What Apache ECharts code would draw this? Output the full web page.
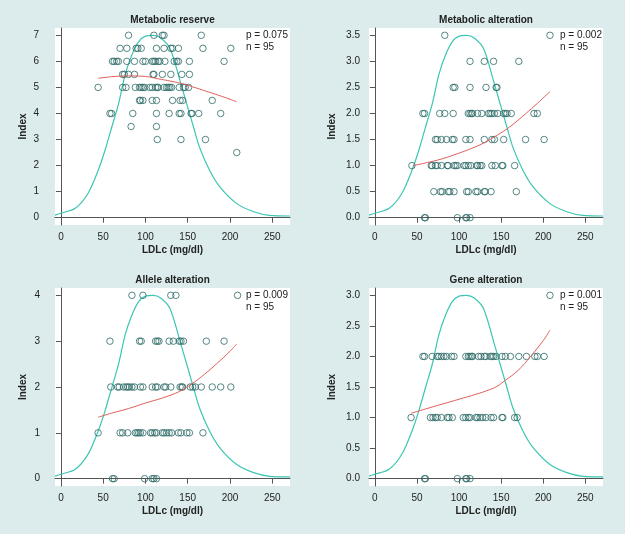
<!DOCTYPE html>
<html><head><meta charset="utf-8">
<script src="https://cdn.jsdelivr.net/npm/echarts@6/dist/echarts.min.js"></script>
<style>html,body{margin:0;padding:0;background:#fff}#c{width:625px;height:534px;background:#dcecec}</style>
</head><body><div id="c"></div><script>
const xTicks = [0, 50, 100, 150, 200, 250];
const curveX = [-7, 0, 17, 32, 44, 52, 60, 68, 76, 84, 92, 100, 109, 118, 129, 141, 149, 157, 164, 176, 188, 208, 228, 247, 271];

// Metabolic reserve
const reserveTitle = 'Metabolic reserve';
const reserveStats = ['p = 0.075', 'n = 95'];
const reserveTicks = [0, 1, 2, 3, 4, 5, 6, 7];
const reserveRows = [
  [7, [80, 110, 120, 122, 166]],
  [6.5, [70, 78, 89, 91, 95, 113, 122, 130, 132, 139, 168, 201]],
  [6, [61, 63, 66, 68, 78, 87, 97, 100, 108, 110, 112, 115, 117, 123, 134, 137, 139, 152, 193]],
  [5.5, [73, 75, 80, 87, 109, 110, 120, 130, 143, 152]],
  [5, [44, 73, 77, 88, 93, 95, 97, 99, 105, 108, 112, 114, 115, 122, 125, 127, 129, 131, 140, 145, 147, 151]],
  [4.5, [93, 94, 97, 108, 113, 132, 141, 144, 179]],
  [4, [58, 60, 85, 113, 128, 140, 142, 154, 155, 163, 189]],
  [3.5, [83, 113]],
  [3, [114, 142, 171]],
  [2.5, [208]]
];
const reserveTrend = [[44, 5.35], [60, 5.41], [80, 5.44], [100, 5.42], [115, 5.33], [130, 5.24], [145, 5.13], [160, 4.98], [175, 4.82], [190, 4.66], [208, 4.45]];
const reserveCurve = [0.10, 0.17, 0.36, 0.93, 1.81, 2.57, 3.46, 4.35, 5.49, 6.25, 6.76, 6.97, 7.0, 6.9, 6.5, 5.24, 4.35, 3.46, 2.7, 1.81, 1.18, 0.54, 0.23, 0.09, 0.065];

// Metabolic alteration
const metabTitle = 'Metabolic alteration';
const metabStats = ['p = 0.002', 'n = 95'];
const metabTicks = [0, 0.5, 1, 1.5, 2, 2.5, 3, 3.5];
const metabRows = [
  [3.5, [83, 208]],
  [3, [113, 130, 141, 171]],
  [2.5, [93, 95, 113, 132, 144, 145]],
  [2, [57, 59, 77, 83, 93, 111, 113, 115, 116, 122, 127, 135, 137, 139, 142, 146, 153, 155, 157, 162, 189, 193]],
  [1.5, [72, 74, 79, 85, 92, 94, 108, 113, 130, 139, 142, 153, 179, 201]],
  [1, [44, 67, 68, 72, 74, 79, 86, 87, 94, 96, 98, 106, 108, 111, 114, 121, 122, 125, 127, 139, 143, 151, 152, 166]],
  [0.5, [70, 78, 80, 87, 89, 94, 109, 111, 120, 122, 130, 131, 138, 168]],
  [0, [59, 60, 98, 108, 109, 113]]
];
const metabTrend = [[45, 1.0], [60, 1.05], [80, 1.13], [100, 1.24], [115, 1.33], [130, 1.44], [145, 1.58], [160, 1.74], [175, 1.94], [190, 2.15], [208, 2.42]];
const metabCurve = [0.05, 0.085, 0.18, 0.465, 0.905, 1.285, 1.73, 2.175, 2.745, 3.125, 3.38, 3.485, 3.5, 3.45, 3.25, 2.62, 2.175, 1.73, 1.35, 0.905, 0.59, 0.27, 0.115, 0.045, 0.033];

// Allele alteration
const alleleTitle = 'Allele alteration';
const alleleStats = ['p = 0.009', 'n = 95'];
const alleleTicks = [0, 1, 2, 3, 4];
const alleleRows = [
  [4, [84, 97, 130, 136, 209]],
  [3, [58, 93, 95, 112, 114, 116, 128, 133, 140, 142, 145, 172, 193]],
  [2, [59, 67, 69, 74, 77, 79, 81, 84, 87, 94, 97, 108, 112, 114, 122, 124, 130, 141, 143, 144, 153, 156, 159, 166, 179, 189, 201]],
  [1, [44, 70, 73, 79, 88, 90, 92, 94, 97, 106, 108, 111, 113, 120, 122, 125, 128, 131, 139, 142, 149, 152, 168]],
  [0, [61, 63, 99, 108, 110, 113]]
];
const alleleTrend = [[44, 1.34], [60, 1.43], [80, 1.53], [100, 1.65], [120, 1.76], [140, 1.9], [155, 2.07], [170, 2.28], [185, 2.52], [200, 2.78], [208, 2.94]];
const alleleCurve = [0.057, 0.097, 0.206, 0.531, 1.034, 1.469, 1.977, 2.486, 3.137, 3.571, 3.863, 3.983, 4, 3.943, 3.714, 2.994, 2.486, 1.977, 1.543, 1.034, 0.674, 0.309, 0.131, 0.051, 0.037];

// Gene alteration
const geneTitle = 'Gene alteration';
const geneStats = ['p = 0.001', 'n = 95'];
const geneTicks = [0, 0.5, 1, 1.5, 2, 2.5, 3];
const geneRows = [
  [3, [208]],
  [2, [57, 59, 68, 74, 76, 79, 82, 85, 91, 94, 108, 111, 113, 115, 116, 123, 126, 130, 132, 137, 139, 141, 144, 151, 155, 161, 171, 180, 190, 193, 201]],
  [1, [43, 66, 69, 72, 74, 79, 86, 88, 92, 105, 108, 111, 113, 120, 122, 125, 128, 132, 138, 141, 151, 152, 166, 169]],
  [0, [59, 60, 98, 108, 109, 113]]
];
const geneTrend = [[43, 1.07], [60, 1.14], [80, 1.22], [100, 1.30], [120, 1.38], [135, 1.45], [145, 1.51], [155, 1.61], [170, 1.77], [185, 2.0], [200, 2.26], [208, 2.43]];
const geneCurve = [0.043, 0.073, 0.154, 0.399, 0.776, 1.101, 1.483, 1.864, 2.353, 2.679, 2.897, 2.987, 3, 2.957, 2.786, 2.246, 1.864, 1.483, 1.157, 0.776, 0.506, 0.231, 0.099, 0.039, 0.028];

const FONT = 'Liberation Sans, Arial, Helvetica, sans-serif';
const TXT = '#222';
const AX = '#555';
const PT = '#2c6a66';
const GREEN = '#3cc6b2';
const RED = '#e0605c';

const panels = [
  {title: reserveTitle, stats: reserveStats, ticks: reserveTicks, rows: reserveRows, trend: reserveTrend, curve: reserveCurve, dec: false,
   grid: {left: 55, top: 28, width: 235, height: 197}, lblMargin: 16, nameGap: 27},
  {title: metabTitle, stats: metabStats, ticks: metabTicks, rows: metabRows, trend: metabTrend, curve: metabCurve, dec: true,
   grid: {left: 369, top: 28, width: 234, height: 197}, lblMargin: 9, nameGap: 32},
  {title: alleleTitle, stats: alleleStats, ticks: alleleTicks, rows: alleleRows, trend: alleleTrend, curve: alleleCurve, dec: false,
   grid: {left: 55, top: 288, width: 235, height: 198}, lblMargin: 15, nameGap: 27},
  {title: geneTitle, stats: geneStats, ticks: geneTicks, rows: geneRows, trend: geneTrend, curve: geneCurve, dec: true,
   grid: {left: 369, top: 288, width: 234, height: 198}, lblMargin: 9, nameGap: 32}
];

const grids = [], xAxes = [], yAxes = [], series = [], graphics = [];
panels.forEach((p, i) => {
  grids.push(Object.assign({show: true, backgroundColor: '#ffffff', borderWidth: 0}, p.grid));
  xAxes.push({
    type: 'value', gridIndex: i, min: -7, max: 271,
    name: 'LDLc (mg/dl)', nameLocation: 'middle', nameGap: 20,
    nameTextStyle: {fontFamily: FONT, fontWeight: 'bold', fontSize: 10, color: TXT},
    axisLine: {show: true, lineStyle: {color: AX, width: 1}},
    axisTick: {show: true, length: 5, lineStyle: {color: AX}, customValues: xTicks},
    axisLabel: {fontFamily: FONT, fontSize: 10, color: TXT, margin: 7, customValues: xTicks},
    splitLine: {show: false}
  });
  const top = p.ticks[p.ticks.length - 1];
  const pad = top * 0.04;
  yAxes.push({
    type: 'value', gridIndex: i, min: -pad, max: top + pad,
    name: 'Index', nameLocation: 'middle', nameGap: p.nameGap, nameRotate: 90,
    nameTextStyle: {fontFamily: FONT, fontWeight: 'bold', fontSize: 10, color: TXT},
    axisLine: {show: true, lineStyle: {color: AX, width: 1}},
    axisTick: {show: true, length: 5, lineStyle: {color: AX}, customValues: p.ticks},
    axisLabel: {fontFamily: FONT, fontSize: 10, color: TXT, margin: p.lblMargin, customValues: p.ticks,
      formatter: v => p.dec ? Number(v).toFixed(1) : String(Math.round(v))},
    splitLine: {show: false}
  });
  const pts = [];
  p.rows.forEach(([y, xs]) => xs.forEach(x => pts.push([x, y])));
  series.push({
    type: 'scatter', xAxisIndex: i, yAxisIndex: i, data: pts, symbol: 'circle', symbolSize: 6.5,
    itemStyle: {color: 'rgba(0,0,0,0)', borderColor: PT, borderWidth: 1}, z: 3
  });
  series.push({
    type: 'line', xAxisIndex: i, yAxisIndex: i, data: curveX.map((x, k) => [x, p.curve[k]]),
    showSymbol: false, smooth: 0.3, lineStyle: {color: GREEN, width: 1.2}, z: 2
  });
  series.push({
    type: 'line', xAxisIndex: i, yAxisIndex: i, data: p.trend,
    showSymbol: false, smooth: 0.4, lineStyle: {color: RED, width: 1}, z: 4
  });
  const cx = p.grid.left + p.grid.width / 2;
  graphics.push({type: 'text', x: cx, y: p.grid.top - 8,
    style: {text: p.title, font: 'bold 10px ' + FONT, fill: TXT, textAlign: 'center', textVerticalAlign: 'middle', align: 'center', verticalAlign: 'middle'}});
  const sx = p.grid.left + 191;
  p.stats.forEach((s, k) => graphics.push({type: 'text', x: sx, y: p.grid.top + 7 + k * 12,
    style: {text: s, font: '10px ' + FONT, fill: TXT, textAlign: 'left', textVerticalAlign: 'middle', align: 'left', verticalAlign: 'middle'}}));
});

const chart = echarts.init(document.getElementById('c'), null, {renderer: 'canvas'});
chart.setOption({
  animation: false,
  backgroundColor: '#dcecec',
  grid: grids, xAxis: xAxes, yAxis: yAxes, series: series, graphic: graphics
});
</script></body></html>
